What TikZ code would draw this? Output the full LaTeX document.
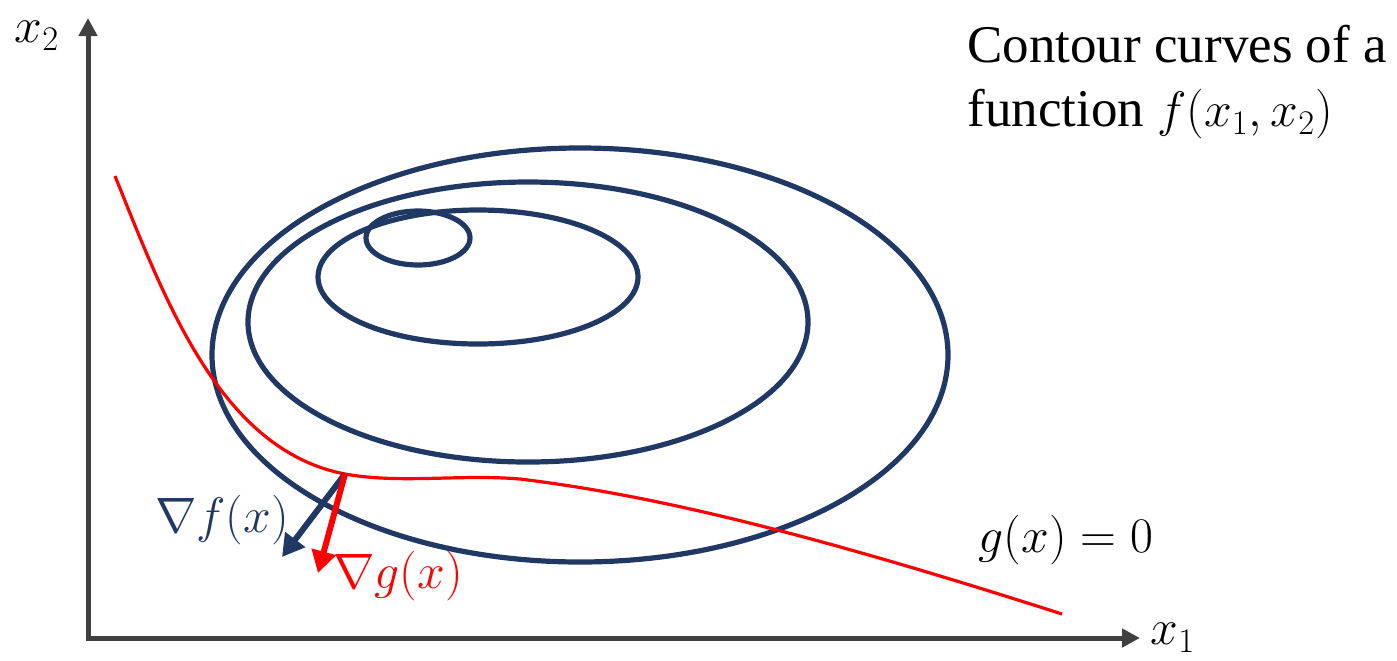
\documentclass[tikz,border=0pt]{standalone}
\usepackage{fontspec}
\setmainfont{Liberation Serif}
\usetikzlibrary{arrows.meta,shapes.geometric}
\definecolor{cblue}{HTML}{203864}
\definecolor{cred}{HTML}{FF0000}
\definecolor{caxis}{HTML}{404040}
\begin{document}
\begin{tikzpicture}[x=0.5pt,y=-0.5pt,
  axis/.style={draw=caxis,line width=2.5pt,-{Triangle[length=9pt,width=9pt]}},
  contour/.style={ellipse,draw=cblue,line width=2.6pt,inner sep=0pt,outer sep=0pt},
  grad/.style={line width=3pt,-{Triangle[length=11pt,width=12pt]}},
  mathlbl/.style={font=\fontsize{24}{28}\selectfont,inner sep=0pt},
  title/.style={font=\fontsize{26.5}{32}\selectfont,align=left,inner sep=0pt,anchor=north west}]
\useasboundingbox (0,0) rectangle (1397,660);
% axes
\coordinate (O) at (88,638);
\coordinate (ytip) at (88,18);
\coordinate (xtip) at (1140,638);
\draw[axis] (88,640) -- (ytip);
\draw[axis] (86,638) -- (xtip);
\node[mathlbl] (x2) at (37,36) {$x_2$};
\node[mathlbl] (x1) at (1173,638) {$x_1$};
% contours
\node[contour,minimum width=368pt,minimum height=207pt] (c1) at (580,355) {};
\node[contour,minimum width=280pt,minimum height=140pt] (c2) at (528,322) {};
\node[contour,minimum width=160pt,minimum height=67pt] (c3) at (478,277) {};
\node[contour,minimum width=52pt,minimum height=27pt] (c4) at (418,238) {};
% constraint curve
\coordinate (gs) at (115,176);
\coordinate (p) at (345,474);
\coordinate (gm) at (520,479);
\coordinate (ge) at (1062,614);
\draw[cred,line width=1.6pt] (gs) .. controls (165,300) and (220,450) .. (p)
  .. controls (400,484) and (460,474) .. (gm)
  .. controls (650,495) and (800,530) .. (ge);
\coordinate (fend) at (282,557);
\coordinate (gend) at (318,573);
\draw[grad,cblue] (p) -- (fend);
\draw[grad,cred] (p) -- (gend);
\node[mathlbl,text=cblue] (gf) at (222,520) {$\nabla f(x)$};
\node[mathlbl,text=cred] (gg) at (398,576) {$\nabla g(x)$};
\node[mathlbl] (gx) at (1066,540) {$g(x)=0$};
\node[title] (t) at (967,25) {Contour curves of a\\function $f(x_1,x_2)$};
\end{tikzpicture}
\end{document}
